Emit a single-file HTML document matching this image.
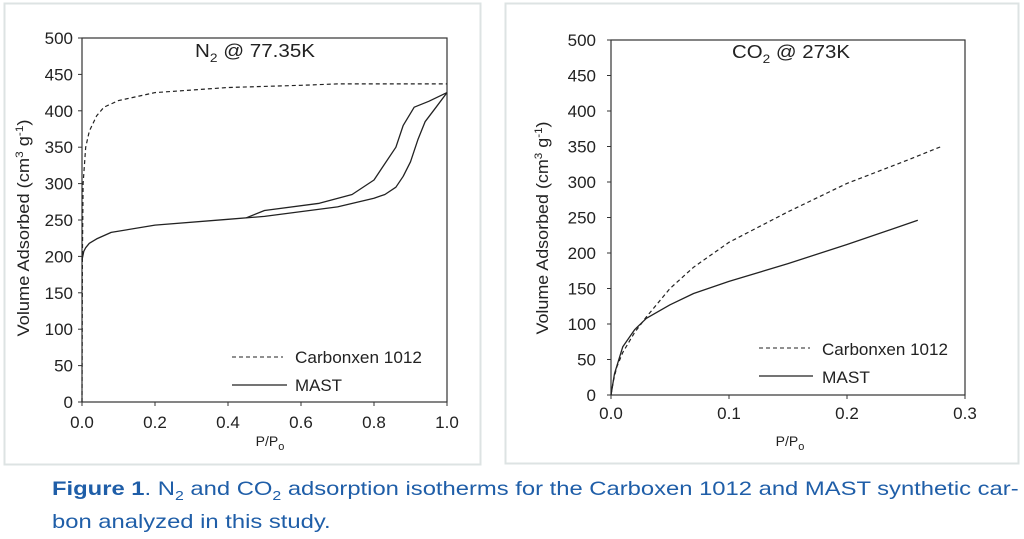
<!DOCTYPE html>
<html><head><meta charset="utf-8"><style>
body{margin:0;background:#fff;width:1024px;height:539px;overflow:hidden;font-family:"Liberation Sans",sans-serif}
svg{position:absolute;left:0;top:0}
.cap{position:absolute;left:52px;top:473px;color:#1f5ea8;font-size:19.5px;line-height:33px;width:820px;white-space:nowrap;transform:scaleX(1.22);transform-origin:0 0}
.cap span.s{font-size:13px;position:relative;top:5px;line-height:0}
</style></head><body>
<svg width="1024" height="470" id="s" font-family="Liberation Sans, sans-serif" fill="#222">
<rect x="4.5" y="3.5" width="476" height="461" fill="none" stroke="#dde3e3" stroke-width="2"/>
<rect x="505.5" y="3.5" width="513" height="460" fill="none" stroke="#dde3e3" stroke-width="2"/>
<g id="g"></g>
<text x="195" y="57" font-size="18" textLength="120" lengthAdjust="spacingAndGlyphs">N<tspan font-size="12" dy="5">2</tspan><tspan dy="-5"> @ 77.35K</tspan></text>
<text x="732" y="58" font-size="18" textLength="118" lengthAdjust="spacingAndGlyphs">CO<tspan font-size="12" dy="5">2</tspan><tspan dy="-5"> @ 273K</tspan></text>
<text transform="translate(29,228) rotate(-90)" font-size="17" text-anchor="middle" textLength="217" lengthAdjust="spacingAndGlyphs">Volume Adsorbed (cm<tspan font-size="11" dy="-6">3</tspan><tspan dy="6"> g</tspan><tspan font-size="11" dy="-6">-1</tspan><tspan dy="6">)</tspan></text>
<text transform="translate(548,228) rotate(-90)" font-size="17" text-anchor="middle" textLength="213" lengthAdjust="spacingAndGlyphs">Volume Adsorbed (cm<tspan font-size="11" dy="-6">3</tspan><tspan dy="6"> g</tspan><tspan font-size="11" dy="-6">-1</tspan><tspan dy="6">)</tspan></text>
<text x="270" y="446" font-size="14" text-anchor="middle">P/P<tspan font-size="11" dy="4">o</tspan></text>
<text x="790" y="446" font-size="14" text-anchor="middle">P/P<tspan font-size="11" dy="4">o</tspan></text>
<line x1="232" y1="357" x2="283" y2="357" stroke="#222" stroke-dasharray="4,3"/>
<text x="295" y="363" font-size="17" textLength="127" lengthAdjust="spacingAndGlyphs">Carbonxen 1012</text>
<line x1="232" y1="385" x2="287" y2="385" stroke="#222" stroke-width="1.3"/>
<text x="295" y="391" font-size="17" textLength="47" lengthAdjust="spacingAndGlyphs">MAST</text>
<line x1="759" y1="348" x2="810" y2="348" stroke="#222" stroke-dasharray="4,3"/>
<text x="822" y="355" font-size="17" textLength="126" lengthAdjust="spacingAndGlyphs">Carbonxen 1012</text>
<line x1="759" y1="376" x2="813" y2="376" stroke="#222" stroke-width="1.3"/>
<text x="822" y="383" font-size="17" textLength="48" lengthAdjust="spacingAndGlyphs">MAST</text>
</svg>
<div class="cap"><b>Figure 1</b>. N<span class="s">2</span> and CO<span class="s">2</span> adsorption isotherms for the Carboxen 1012 and MAST synthetic car-<br>bon analyzed in this study.</div>
<script>
const g=document.getElementById('g');let h='';
function panel(x0,x1,y0,y1,xmax,xt,gap,xb){
 h+=`<rect x="${x0}" y="${y1}" width="${x1-x0}" height="${y0-y1}" fill="none" stroke="#333" stroke-width="1.2"/>`;
 for(let v=0;v<=500;v+=50){const y=y0-(y0-y1)*v/500;h+=`<line x1="${x0-4}" x2="${x0}" y1="${y}" y2="${y}" stroke="#333"/><text x="${x0-gap}" y="${y+6}" font-size="17" text-anchor="end">${v}</text>`;}
 xt.forEach(t=>{const x=x0+(x1-x0)*t/xmax;h+=`<line x1="${x}" x2="${x}" y1="${y0}" y2="${y0+4}" stroke="#333"/><text x="${x}" y="${xb}" font-size="17" text-anchor="middle">${t.toFixed(1)}</text>`;});
}
function path(x0,x1,y0,y1,xmax,pts,dash){
 const d=pts.map((p,i)=>(i?'L':'M')+(x0+(x1-x0)*p[0]/xmax).toFixed(1)+','+(y0-(y0-y1)*p[1]/500).toFixed(1)).join('');
 h+=`<path d="${d}" fill="none" stroke="#222" stroke-width="${dash?1.2:1.3}" ${dash?'stroke-dasharray="4,3"':''} stroke-linejoin="round"/>`;
}
panel(82,447,402,38,1,[0,0.2,0.4,0.6,0.8,1.0],9,428);
panel(611,965,395,40,0.3,[0,0.1,0.2,0.3],15,419);
path(82,447,402,38,1,[[0,0],[0.001,200],[0.003,300],[0.01,350],[0.02,372],[0.04,393],[0.06,405],[0.1,414],[0.2,425],[0.4,432],[0.6,435],[0.7,437],[1.0,437]],1);
path(82,447,402,38,1,[[0,195],[0.005,207],[0.01,212],[0.02,218],[0.04,224],[0.08,233],[0.2,243],[0.4,251],[0.5,255],[0.7,268],[0.8,280],[0.83,285],[0.86,295],[0.88,310],[0.9,330],[0.92,360],[0.94,385],[0.97,405],[1.0,425]]);
path(82,447,402,38,1,[[1.0,425],[0.95,413],[0.91,405],[0.88,380],[0.86,350],[0.82,320],[0.8,305],[0.74,285],[0.65,273],[0.5,263],[0.45,253]]);
path(611,965,395,40,0.3,[[0,0],[0.002,20],[0.005,40],[0.01,60],[0.02,88],[0.03,110],[0.05,150],[0.07,180],[0.1,215],[0.15,258],[0.2,298],[0.25,330],[0.28,350]],1);
path(611,965,395,40,0.3,[[0,0],[0.003,30],[0.01,68],[0.02,92],[0.03,108],[0.05,127],[0.07,143],[0.1,160],[0.15,185],[0.2,212],[0.26,246]]);
g.innerHTML=h;
</script>
</body></html>
